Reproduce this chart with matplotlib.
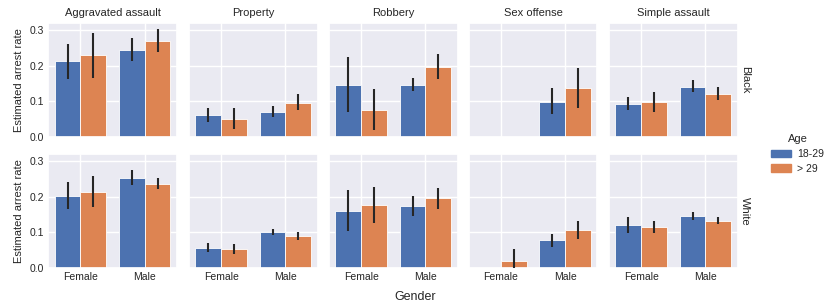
import numpy as np
import matplotlib
matplotlib.use("Agg")
import matplotlib.pyplot as plt
import seaborn as sns

sns.set_theme(style="darkgrid")
plt.rcParams['font.family'] = ['Liberation Sans', 'DejaVu Sans']

crimes = ["Aggravated assault", "Property", "Robbery", "Sex offense", "Simple assault"]
races = ["Black", "White"]
genders = ["Female", "Male"]
ages = ["18-29", "> 29"]
nan = np.nan

# values[race][crime] = [F 18-29, F >29, M 18-29, M >29]
black_mean = [
    [0.213, 0.230, 0.244, 0.271],
    [0.060, 0.051, 0.071, 0.096],
    [0.146, 0.075, 0.145, 0.197],
    [nan, nan, 0.099, 0.138],
    [0.092, 0.097, 0.141, 0.121],
]
black_lo = [
    [0.164, 0.166, 0.213, 0.240],
    [0.041, 0.021, 0.057, 0.075],
    [0.070, 0.019, 0.129, 0.164],
    [nan, nan, 0.064, 0.082],
    [0.074, 0.071, 0.125, 0.103],
]
black_hi = [
    [0.262, 0.294, 0.278, 0.305],
    [0.082, 0.081, 0.087, 0.120],
    [0.226, 0.135, 0.165, 0.232],
    [nan, nan, 0.137, 0.194],
    [0.111, 0.125, 0.159, 0.141],
]
white_mean = [
    [0.202, 0.215, 0.254, 0.236],
    [0.055, 0.052, 0.100, 0.089],
    [0.159, 0.176, 0.173, 0.196],
    [nan, 0.020, 0.077, 0.105],
    [0.120, 0.115, 0.146, 0.132],
]
white_lo = [
    [0.165, 0.172, 0.234, 0.222],
    [0.045, 0.039, 0.092, 0.078],
    [0.104, 0.127, 0.147, 0.167],
    [nan, -0.01, 0.059, 0.080],
    [0.098, 0.098, 0.135, 0.123],
]
white_hi = [
    [0.241, 0.260, 0.277, 0.252],
    [0.069, 0.068, 0.109, 0.101],
    [0.218, 0.228, 0.201, 0.226],
    [nan, 0.054, 0.096, 0.131],
    [0.142, 0.132, 0.158, 0.143],
]

means = {"Black": black_mean, "White": white_mean}
los = {"Black": black_lo, "White": white_lo}
his = {"Black": black_hi, "White": white_hi}

colors = ["#4C72B0", "#DD8452"]

W, H = 831, 308
fig = plt.figure(figsize=(W / 100, H / 100), dpi=100)

lefts = [48.3, 189, 329, 468.7, 609]
aw = 128.5
tops = [23.3, 154.3]
ah = 113.4

tick_fs = 7.5
for r, race in enumerate(races):
    for c, crime in enumerate(crimes):
        ax = fig.add_axes([lefts[c] / W, (H - tops[r] - ah) / H, aw / W, ah / H])
        m = means[race][c]
        lo = los[race][c]
        hi = his[race][c]
        for gi, g in enumerate(genders):
            for ai, a in enumerate(ages):
                k = gi * 2 + ai
                x = gi - 0.2 + 0.4 * ai
                if not np.isnan(m[k]):
                    ax.bar(x, m[k], width=0.4, color=colors[ai], edgecolor="white",
                           linewidth=0.6, zorder=2)
                    ax.plot([x, x], [lo[k], hi[k]], color="#262626", lw=1.5,
                            solid_capstyle="butt", zorder=3)
        ax.set_xlim(-0.5, 1.5)
        ax.set_ylim(0, 0.32)
        ax.set_xticks([0, 1])
        ax.set_yticks([0.0, 0.1, 0.2, 0.3])
        ax.tick_params(length=0, labelsize=tick_fs, pad=3, colors="#262626")
        if r == 1:
            ax.set_xticklabels(genders)
        else:
            ax.set_xticklabels([])
        if c == 0:
            ax.set_yticklabels(["0.0", "0.1", "0.2", "0.3"])
            ax.set_ylabel("Estimated arrest rate", fontsize=8, color="#262626", labelpad=4)
        else:
            ax.set_yticklabels([])
        if r == 0:
            ax.set_title(crime, fontsize=8, color="#262626", pad=5)
        if c == len(crimes) - 1:
            ax.text(1.02, 0.5, race, transform=ax.transAxes, rotation=270,
                    va="center", ha="left", fontsize=8, color="#262626")

fig.text(415 / W, 1 - 297 / H, "Gender", ha="center", va="center", fontsize=9, color="#262626")

handles = [plt.Rectangle((0, 0), 1, 1, color=colors[i]) for i in range(2)]
leg = fig.legend(handles, ages, title="Age", loc="center left",
                 bbox_to_anchor=(762 / W, 1 - 154 / H), frameon=False,
                 fontsize=7.5, title_fontsize=8, handlelength=1.9, handleheight=0.7,
                 handletextpad=0.6, labelspacing=0.45)

fig.savefig("out.png", dpi=100)
